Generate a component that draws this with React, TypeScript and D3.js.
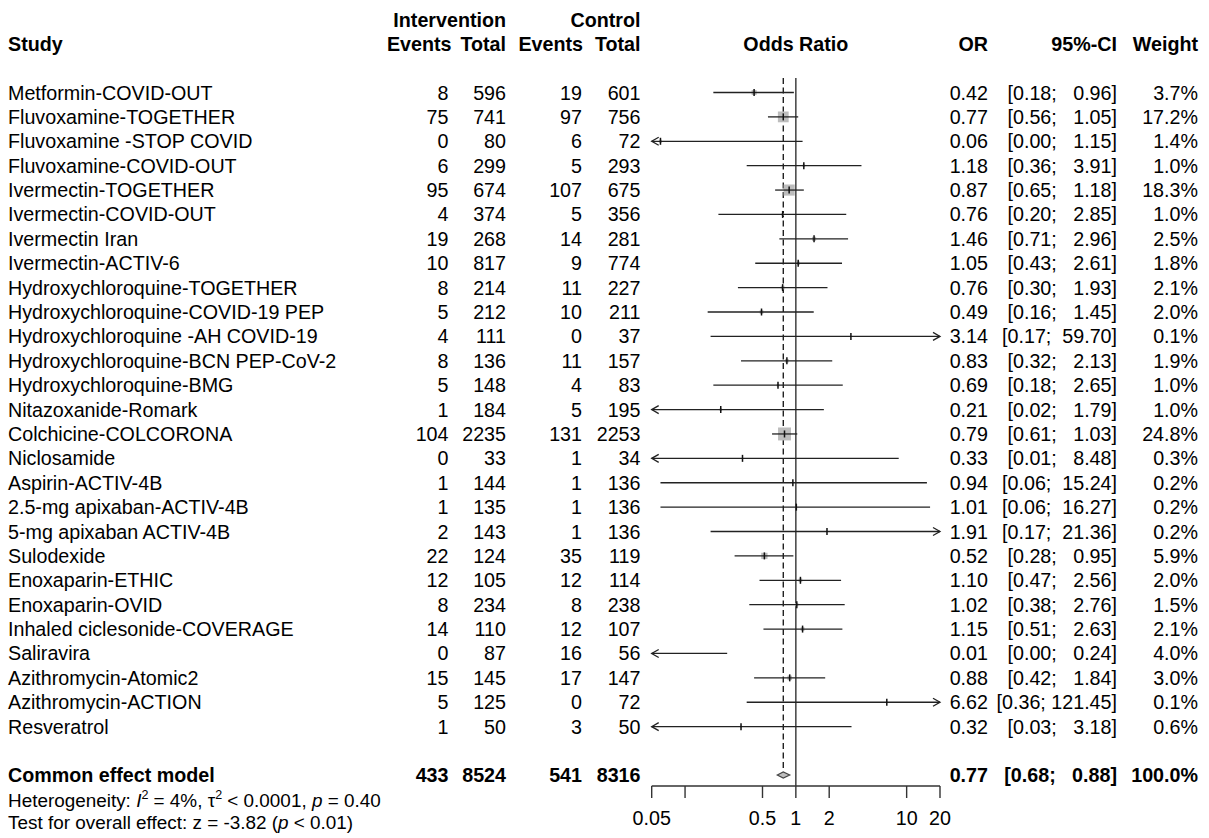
import React from "react";
import * as d3 from "d3";

const studies = [
  "Metformin-COVID-OUT", "Fluvoxamine-TOGETHER", "Fluvoxamine -STOP COVID", "Fluvoxamine-COVID-OUT",
  "Ivermectin-TOGETHER", "Ivermectin-COVID-OUT", "Ivermectin Iran", "Ivermectin-ACTIV-6",
  "Hydroxychloroquine-TOGETHER", "Hydroxychloroquine-COVID-19 PEP", "Hydroxychloroquine -AH COVID-19",
  "Hydroxychloroquine-BCN PEP-CoV-2", "Hydroxychloroquine-BMG", "Nitazoxanide-Romark", "Colchicine-COLCORONA",
  "Niclosamide", "Aspirin-ACTIV-4B", "2.5-mg apixaban-ACTIV-4B", "5-mg apixaban ACTIV-4B", "Sulodexide",
  "Enoxaparin-ETHIC", "Enoxaparin-OVID", "Inhaled ciclesonide-COVERAGE", "Saliravira", "Azithromycin-Atomic2",
  "Azithromycin-ACTION", "Resveratrol",
];
const eventsE = [8, 75, 0, 6, 95, 4, 19, 10, 8, 5, 4, 8, 5, 1, 104, 0, 1, 1, 2, 22, 12, 8, 14, 0, 15, 5, 1];
const totalE = [596, 741, 80, 299, 674, 374, 268, 817, 214, 212, 111, 136, 148, 184, 2235, 33, 144, 135, 143, 124, 105, 234, 110, 87, 145, 125, 50];
const eventsC = [19, 97, 6, 5, 107, 5, 14, 9, 11, 10, 0, 11, 4, 5, 131, 1, 1, 1, 1, 35, 12, 8, 12, 16, 17, 0, 3];
const totalC = [601, 756, 72, 293, 675, 356, 281, 774, 227, 211, 37, 157, 83, 195, 2253, 34, 136, 136, 136, 119, 114, 238, 107, 56, 147, 72, 50];
const orVal = [0.42, 0.77, 0.06, 1.18, 0.87, 0.76, 1.46, 1.05, 0.76, 0.49, 3.14, 0.83, 0.69, 0.21, 0.79, 0.33, 0.94, 1.01, 1.91, 0.52, 1.10, 1.02, 1.15, 0.01, 0.88, 6.62, 0.32];
const ciLow = [0.18, 0.56, 0.004, 0.36, 0.65, 0.20, 0.71, 0.43, 0.30, 0.16, 0.17, 0.32, 0.18, 0.02, 0.61, 0.01, 0.06, 0.06, 0.17, 0.28, 0.47, 0.38, 0.51, 0.0004, 0.42, 0.36, 0.03];
const ciHigh = [0.96, 1.05, 1.15, 3.91, 1.18, 2.85, 2.96, 2.61, 1.93, 1.45, 59.70, 2.13, 2.65, 1.79, 1.03, 8.48, 15.24, 16.27, 21.36, 0.95, 2.56, 2.76, 2.63, 0.24, 1.84, 121.45, 3.18];
const weights = [3.7, 17.2, 1.4, 1.0, 18.3, 1.0, 2.5, 1.8, 2.1, 2.0, 0.1, 1.9, 1.0, 1.0, 24.8, 0.3, 0.2, 0.2, 0.2, 5.9, 2.0, 1.5, 2.1, 4.0, 3.0, 0.1, 0.6];

const pooledLabel = "Common effect model";
const pooledTotals = [433, 8524, 541, 8316];
const pooledOR = 0.77;
const pooledLow = 0.68;
const pooledHigh = 0.88;
const pooledWeight = "100.0%";

const axisTicks = [0.05, 0.1, 0.5, 1, 2, 10, 20];
const axisLabels = ["0.05", "", "0.5", "1", "2", "10", "20"];

const FONT = "'Liberation Sans', Arial, Helvetica, sans-serif";
const FS = 19.7;

function fmt2(v: number) {
  return v.toFixed(2);
}
function ciString(lo: number, hi: number) {
  const l = fmt2(lo);
  const h = fmt2(hi);
  return "[" + l + "; " + " ".repeat(Math.max(0, 6 - h.length)) + h + "]";
}

export default function App() {
  const x = d3.scaleLog().domain([0.05, 20]).range([651.7, 940]);
  const y0 = 92.5;
  const step = 24.39;
  const yRow = (i: number) => y0 + i * step;
  const base = 7;
  const pooledY = 775;
  const axisY = 786;
  const xMin = 0.05;
  const xMax = 20;

  const colEv1 = 448.5;
  const colTot1 = 506;
  const colEv2 = 582;
  const colTot2 = 640.5;
  const colOR = 988;
  const colCI = 1117;
  const colW = 1198;

  const txt = (props: any, s: string | number, key?: any) => (
    <text key={key} {...props} style={{ whiteSpace: "pre" }} xmlSpace="preserve">
      {s}
    </text>
  );

  const arrowHead = (xt: number, yy: number, dir: number, key: string) => (
    <path
      key={key}
      d={`M${xt + dir * -7},${yy - 4} L${xt},${yy} L${xt + dir * -7},${yy + 4}`}
      fill="none"
      stroke="#222"
      strokeWidth={1.3}
    />
  );

  return (
    <svg
      width={1209}
      height={838}
      style={{ position: "absolute", left: 0, top: 0, background: "#fff", display: "block" }}
      fontFamily={FONT}
      fontSize={FS}
    >
      <rect x={0} y={0} width={1209} height={838} fill="#fff" />
      {/* Header */}
      <g fontWeight="bold" fill="#000">
        {txt({ x: 8, y: 51 }, "Study")}
        {txt({ x: colTot1, y: 27, textAnchor: "end" }, "Intervention")}
        {txt({ x: colTot2, y: 27, textAnchor: "end" }, "Control")}
        {txt({ x: colEv1 + 3, y: 51, textAnchor: "end" }, "Events")}
        {txt({ x: colTot1, y: 51, textAnchor: "end" }, "Total")}
        {txt({ x: colEv2 + 1, y: 51, textAnchor: "end" }, "Events")}
        {txt({ x: colTot2, y: 51, textAnchor: "end" }, "Total")}
        {txt({ x: (x(xMin) + x(xMax)) / 2, y: 51, textAnchor: "middle" }, "Odds Ratio")}
        {txt({ x: colOR, y: 51, textAnchor: "end" }, "OR")}
        {txt({ x: colCI, y: 51, textAnchor: "end" }, "95%-CI")}
        {txt({ x: colW, y: 51, textAnchor: "end" }, "Weight")}
      </g>

      {/* Reference lines */}
      <line x1={x(1)} x2={x(1)} y1={78} y2={axisY} stroke="#333" strokeWidth={1.4} />
      <line x1={x(pooledOR)} x2={x(pooledOR)} y1={78} y2={769} stroke="#111" strokeWidth={1.3} strokeDasharray="6,3.5" />

      {/* Study rows */}
      {studies.map((s, i) => {
        const yy = yRow(i);
        const lo = ciLow[i];
        const hi = ciHigh[i];
        const est = orVal[i];
        const loC = Math.max(lo, xMin);
        const hiC = Math.min(hi, xMax);
        const side = 2.6 * Math.sqrt(weights[i]);
        const inRange = est >= xMin && est <= xMax;
        return (
          <g key={s}>
            {txt({ x: 8, y: yy + base }, s)}
            {txt({ x: colEv1, y: yy + base, textAnchor: "end" }, eventsE[i])}
            {txt({ x: colTot1, y: yy + base, textAnchor: "end" }, totalE[i])}
            {txt({ x: colEv2, y: yy + base, textAnchor: "end" }, eventsC[i])}
            {txt({ x: colTot2, y: yy + base, textAnchor: "end" }, totalC[i])}
            {txt({ x: colOR, y: yy + base, textAnchor: "end" }, fmt2(est))}
            {txt({ x: colCI, y: yy + base, textAnchor: "end" }, ciString(lo, hi))}
            {txt({ x: colW, y: yy + base, textAnchor: "end" }, weights[i].toFixed(1) + "%")}
            {inRange && (
              <rect x={x(est) - side / 2} y={yy - side / 2} width={side} height={side} fill="#bdbdbd" />
            )}
            <line x1={x(loC)} x2={x(hiC)} y1={yy} y2={yy} stroke="#222" strokeWidth={1.3} />
            {lo < xMin && arrowHead(x(xMin), yy, -1, "la")}
            {hi > xMax && arrowHead(x(xMax), yy, 1, "ra")}
            {inRange && (
              <line x1={x(est)} x2={x(est)} y1={yy - 3.5} y2={yy + 3.5} stroke="#111" strokeWidth={1.5} />
            )}
          </g>
        );
      })}

      {/* Pooled row */}
      <g fontWeight="bold">
        {txt({ x: 8, y: pooledY + base }, pooledLabel)}
        {txt({ x: colEv1, y: pooledY + base, textAnchor: "end" }, pooledTotals[0])}
        {txt({ x: colTot1, y: pooledY + base, textAnchor: "end" }, pooledTotals[1])}
        {txt({ x: colEv2, y: pooledY + base, textAnchor: "end" }, pooledTotals[2])}
        {txt({ x: colTot2, y: pooledY + base, textAnchor: "end" }, pooledTotals[3])}
        {txt({ x: colOR, y: pooledY + base, textAnchor: "end" }, fmt2(pooledOR))}
        {txt({ x: colCI, y: pooledY + base, textAnchor: "end" }, ciString(pooledLow, pooledHigh))}
        {txt({ x: colW, y: pooledY + base, textAnchor: "end" }, pooledWeight)}
      </g>
      <path
        d={`M${x(pooledLow)},${pooledY} L${x(pooledOR)},${pooledY - 3} L${x(pooledHigh)},${pooledY} L${x(pooledOR)},${pooledY + 3} Z`}
        fill="#bdbdbd"
        stroke="#444"
        strokeWidth={1.2}
      />

      {/* Axis */}
      <line x1={x(xMin)} x2={x(xMax)} y1={axisY} y2={axisY} stroke="#333" strokeWidth={1.4} />
      {axisTicks.map((t, i) => (
        <g key={t}>
          <line x1={x(t)} x2={x(t)} y1={axisY} y2={axisY + 12} stroke="#333" strokeWidth={1.4} />
          {axisLabels[i] &&
            txt({ x: x(t), y: 825, textAnchor: "middle" }, axisLabels[i])}
        </g>
      ))}

      {/* Footer */}
      <text x={8} y={807} fontSize={18.9}>
        Heterogeneity: <tspan fontStyle="italic">I</tspan>
        <tspan fontSize={12.5} dy={-8}>2</tspan>
        <tspan dy={8}> = 4%, τ</tspan>
        <tspan fontSize={12.5} dy={-8}>2</tspan>
        <tspan dy={8}> &lt; 0.0001, </tspan>
        <tspan fontStyle="italic">p</tspan>
        <tspan> = 0.40</tspan>
      </text>
      <text x={8} y={829} fontSize={18.9}>
        Test for overall effect: z = -3.82 (<tspan fontStyle="italic">p</tspan> &lt; 0.01)
      </text>
    </svg>
  );
}
